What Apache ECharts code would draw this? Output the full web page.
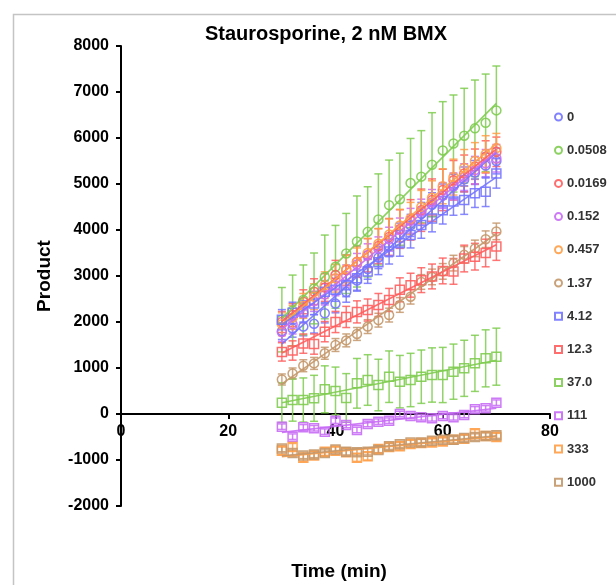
<!DOCTYPE html>
<html>
<head>
<meta charset="utf-8">
<script src="https://cdn.jsdelivr.net/npm/echarts@6/dist/echarts.min.js"></script>
<style>html,body{margin:0;padding:0;background:#fff}#c{width:616px;height:585px}</style>
</head>
<body>
<div id="c"></div>
<script>
// ---- data ----
var time = [30,32,34,36,38,40,42,44,46,48,50,52,54,56,58,60,62,64,66,68,70];
var seriesNames = ['0','0.0508','0.0169','0.152','0.457','1.37','4.12','12.3','37.0','111','333','1000'];
var v0   = [1800,1860,1900,1960,2190,2400,2650,2900,3150,3400,3650,3900,4100,4350,4550,4750,4950,5100,5250,5400,5500];
var v1   = [2050,2250,2480,2730,2980,3200,3490,3750,3960,4230,4540,4670,5020,5160,5420,5730,5880,6050,6210,6330,6600];
var v2   = [2000,2150,2440,2660,2750,3020,3130,3310,3450,3650,3850,4020,4220,4430,4650,4870,5080,5230,5380,5590,5700];
var v3   = [1780,1950,2200,2450,2600,2800,3000,3250,3450,3600,3800,4000,4200,4400,4600,4750,4950,5150,5300,5450,5560];
var v4   = [1950,2100,2350,2550,2800,2950,3150,3300,3500,3700,3900,4100,4250,4500,4700,4950,5150,5350,5500,5650,5780];
var v5   = [750,880,1050,1100,1320,1500,1600,1740,1900,2040,2150,2370,2550,2870,2980,3100,3280,3460,3600,3800,3970];
var v6   = [2050,2200,2230,2400,2660,2700,2800,2950,3100,3300,3530,3710,3890,4110,4250,4430,4620,4650,4800,4830,5230];
var v7   = [1350,1380,1530,1520,1790,2000,2110,2220,2260,2370,2480,2700,2800,2910,2990,3110,3100,3380,3420,3500,3640];
var v8   = [246,304,304,341,537,500,348,667,739,630,811,703,739,811,848,848,920,993,1101,1210,1246];
var v9   = [-275,-493,-290,-310,-384,-145,-239,-348,-217,-167,-145,0,-43,-72,-94,-43,-72,-22,101,123,246];
var v10  = [-800,-720,-950,-900,-820,-800,-830,-950,-920,-760,-720,-700,-650,-630,-620,-600,-560,-540,-420,-480,-500];
var v11  = [-750,-850,-900,-880,-850,-770,-820,-830,-820,-780,-700,-660,-620,-620,-580,-560,-560,-520,-500,-480,-460];
var e0   = [180,190,200,200,210,200,220,230,220,240,230,250,240,250,260,250,260,270,260,270,280];
var e1   = [700,770,760,770,910,900,870,990,980,990,980,1000,970,1000,1130,1060,1055,1030,1050,1060,965];
var e2   = [230,250,260,280,300,320,330,340,360,380,400,420,440,460,460,450,430,400,380,350,320];
var e3   = [200,210,220,220,230,230,240,240,250,250,260,260,270,270,280,280,290,290,300,300,300];
var e4   = [250,260,270,280,290,300,300,310,320,330,340,350,350,360,370,380,390,400,400,400,320];
var e5   = [120,120,130,130,130,140,140,140,150,150,150,160,160,160,170,170,170,180,180,180,180];
var e6   = [220,230,230,240,240,250,250,260,260,270,270,280,280,290,290,300,300,310,310,320,320];
var e7   = [200,210,210,220,220,230,230,240,240,250,250,260,260,270,270,280,280,290,290,300,300];
var e8   = [430,460,480,500,510,520,530,540,550,560,560,570,580,580,590,600,600,610,610,620,620];
var e9   = [60,60,60,60,60,60,60,60,60,60,60,60,60,60,60,60,60,60,60,60,60];
var e10  = [80,80,80,80,80,80,80,80,80,80,80,80,80,80,80,80,80,80,80,80,80];
var e11  = [70,70,70,70,70,70,70,70,70,70,70,70,70,70,70,70,70,70,70,70,70];
var xTicks = [0,20,40,60,80];
var yTicks = [-2000,-1000,0,1000,2000,3000,4000,5000,6000,7000,8000];

var values = [v0,v1,v2,v3,v4,v5,v6,v7,v8,v9,v10,v11];
var errors = [e0,e1,e2,e3,e4,e5,e6,e7,e8,e9,e10,e11];
var BLUE='#7474ff', GREEN='#7fcc50', RED='#ff5e5e', PURPLE='#c86cf5', ORANGE='#ff9e48', TAN='#c4986c';
var colors = [BLUE,GREEN,RED,PURPLE,ORANGE,TAN, BLUE,RED,GREEN,PURPLE,ORANGE,TAN];
var symbols = ['circle','circle','circle','circle','circle','circle','rect','rect','rect','rect','rect','rect'];

function fit(xs, ys){
  var n = xs.length, sx=0, sy=0, sxx=0, sxy=0;
  for (var i=0;i<n;i++){ sx+=xs[i]; sy+=ys[i]; sxx+=xs[i]*xs[i]; sxy+=xs[i]*ys[i]; }
  var b = (n*sxy - sx*sy)/(n*sxx - sx*sx);
  var a = (sy - b*sx)/n;
  return [[xs[0], a+b*xs[0]], [xs[n-1], a+b*xs[n-1]]];
}

var series = [];
seriesNames.forEach(function(name, k){
  var col = colors[k];
  var errData = time.map(function(t,i){ return [t, values[k][i], errors[k][i]]; });
  series.push({
    name: name + ' err', type: 'custom', data: errData, encode: {x:0, y:1}, silent: true,
    renderItem: function(params, api){
      var x = api.value(0), y = api.value(1), e = api.value(2);
      var top = api.coord([x, y+e]), bot = api.coord([x, y-e]);
      var hw = 4, st = {stroke: col, lineWidth: 1.5, opacity: 0.85};
      return {type:'group', children:[
        {type:'line', shape:{x1:top[0],y1:top[1],x2:bot[0],y2:bot[1]}, style: st},
        {type:'line', shape:{x1:top[0]-hw,y1:top[1],x2:top[0]+hw,y2:top[1]}, style: st},
        {type:'line', shape:{x1:bot[0]-hw,y1:bot[1],x2:bot[0]+hw,y2:bot[1]}, style: st}
      ]};
    }
  });
  series.push({
    name: name + ' fit', type: 'line', data: fit(time, values[k]), symbol: 'none', silent: true,
    lineStyle: {color: col, width: 1.6, opacity: 0.9}
  });
  series.push({
    name: name, type: 'scatter', symbol: symbols[k], symbolSize: 9,
    data: time.map(function(t,i){ return [t, values[k][i]]; }),
    itemStyle: {color: 'rgba(255,255,255,0)', borderColor: col, borderWidth: 1.5, opacity: 0.9}
  });
});

var GRID_TOP = 46, GRID_BOTTOM = 79, H = 585;
var plotH = H - GRID_TOP - GRID_BOTTOM;
var zeroOffset = plotH * (0 - yTicks[0]) / (yTicks[yTicks.length-1] - yTicks[0]);

var chart = echarts.init(document.getElementById('c'), null, {renderer: 'canvas'});
chart.setOption({
  animation: false,
  backgroundColor: '#fff',
  title: [{
    text: 'Staurosporine, 2 nM BMX', left: 321, top: 19, textAlign: 'center',
    textStyle: {fontFamily: 'Liberation Sans', fontWeight: 'bold', fontSize: 20, color: '#000'}
  }, {
    text: 'Time (min)', left: 334, top: 557, textAlign: 'center',
    textStyle: {fontFamily: 'Liberation Sans', fontWeight: 'bold', fontSize: 19, color: '#000'}
  }],
  graphic: [{
    type: 'rect', shape: {x: 13.5, y: 14.5, width: 700, height: 700},
    style: {fill: 'none', stroke: '#c4c4c4', lineWidth: 1.5}, silent: true, z: -10
  }],
  legend: {
    orient: 'vertical', left: 549, top: 105, itemWidth: 7, itemHeight: 7, itemGap: 19.2,
    data: seriesNames.map(function(n, k){ return {name: n, icon: symbols[k]}; }),
    textStyle: {fontFamily: 'Liberation Sans', fontWeight: 'bold', fontSize: 13, color: '#333', lineHeight: 14},
    selectedMode: false
  },
  grid: {left: 121, right: 66, top: GRID_TOP, bottom: GRID_BOTTOM, containLabel: false, outerBoundsMode: 'none'},
  xAxis: {
    type: 'value', min: xTicks[0], max: xTicks[xTicks.length-1], interval: 20,
    axisLine: {onZero: true, lineStyle: {color: '#000', width: 2}},
    axisTick: {show: true, inside: false, length: 5, lineStyle: {color: '#000', width: 2}},
    axisLabel: {fontFamily: 'Liberation Sans', fontWeight: 'bold', fontSize: 16, color: '#000',
      margin: 10 - zeroOffset,
      formatter: function(v){ return String(v); }},
    splitLine: {show: false}
  },
  yAxis: {
    type: 'value', min: yTicks[0], max: yTicks[yTicks.length-1], interval: 1000,
    name: 'Product', nameLocation: 'middle', nameGap: 67, nameRotate: 90,
    nameTextStyle: {fontFamily: 'Liberation Sans', fontWeight: 'bold', fontSize: 19, color: '#000'},
    axisLine: {show: true, lineStyle: {color: '#000', width: 2}},
    axisTick: {show: true, inside: false, length: 5, lineStyle: {color: '#000', width: 2}},
    axisLabel: {fontFamily: 'Liberation Sans', fontWeight: 'bold', fontSize: 16, color: '#000', margin: 12,
      formatter: function(v){ return String(v); }},
    splitLine: {show: false}
  },
  series: series
});
</script>
</body>
</html>
